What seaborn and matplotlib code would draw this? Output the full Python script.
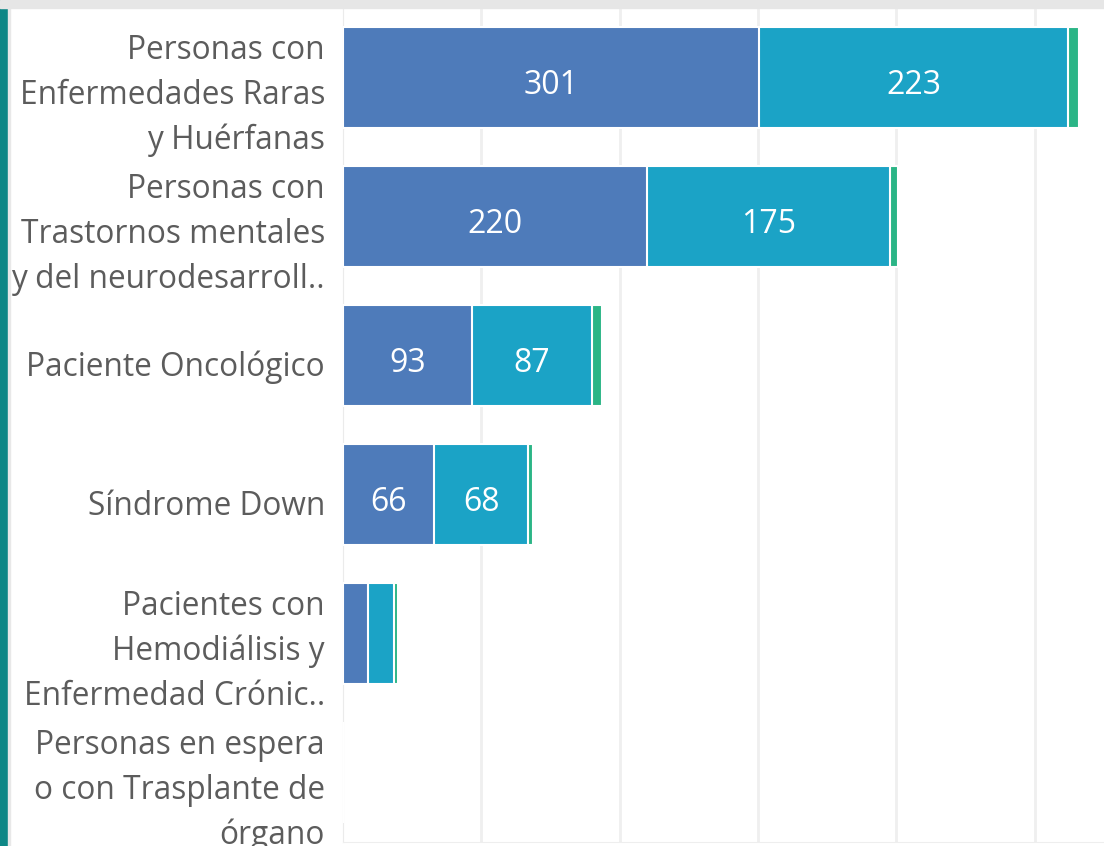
import numpy as np
import pandas as pd
import matplotlib
matplotlib.use("Agg")
import matplotlib.pyplot as plt
import seaborn as sns
from matplotlib.patches import Rectangle
from matplotlib.transforms import ScaledTranslation

# data
categories = [
    "Personas con\nEnfermedades Raras\ny Huérfanas",
    "Personas con\nTrastornos mentales\ny del neurodesarroll..",
    "Paciente Oncológico",
    "Síndrome Down",
    "Pacientes con\nHemodiálisis y\nEnfermedad Crónic..",
    "Personas en espera\no con Trasplante de\nórgano",
]
blue_vals = [301, 220, 93, 66, 18, 0]
teal_vals = [223, 175, 87, 68, 19, 0]
green_vals = [8, 6, 7, 3, 3, 0]

blue_c = "#4E7BBA"
teal_c = "#1BA3C6"
green_c = "#2BB586"

df = pd.DataFrame({"cat": categories, "blue": blue_vals, "teal": teal_vals, "green": green_vals})
df["bt"] = df["blue"] + df["teal"]
df["total"] = df["bt"] + df["green"]

sns.set_style("white")
plt.rcParams["font.family"] = ["Open Sans", "DejaVu Sans"]

fig = plt.figure(figsize=(11.04, 8.46), dpi=100)
ax = fig.add_axes([343 / 1104, 4 / 846, 1 - 343 / 1104 + 0.01, 834 / 846])

# stacked by overlaying cumulative bars
for col, c in [("total", green_c), ("bt", teal_c), ("blue", blue_c)]:
    sns.barplot(data=df, x=col, y="cat", orient="h", color=c, saturation=1,
                width=0.72, edgecolor="white", linewidth=1.5, ax=ax, zorder=3)

# segment labels (sit a little below the bar centre, like the original)
for i, row in df.iterrows():
    if row["blue"] >= 40:
        ax.text(row["blue"] / 2, i + 0.06, str(row["blue"]), color="white", fontsize=23,
                ha="center", va="center", zorder=5)
    if row["teal"] >= 40:
        ax.text(row["blue"] + row["teal"] / 2, i + 0.06, str(row["teal"]), color="white",
                fontsize=23, ha="center", va="center", zorder=5)

ax.set_xlim(0, 558)
ax.set_ylim(5.5, -0.5)
ax.set_xlabel("")
ax.set_ylabel("")
ax.set_xticks([100, 200, 300, 400, 500])
ax.set_xticklabels([])
ax.xaxis.grid(True, color="#EFEFEF", linewidth=2, zorder=0)
ax.set_axisbelow(True)
ax.tick_params(axis="y", length=0, pad=13, labelsize=22.8, labelcolor="#5C5C5C")
ax.tick_params(axis="x", length=0)
for s in ["top", "right"]:
    ax.spines[s].set_visible(False)
ax.spines["left"].set_color("#EBEBEB")
ax.spines["bottom"].set_color("#EEEEEE")
shift = ScaledTranslation(0, -8 / 100, fig.dpi_scale_trans)
for lbl in ax.get_yticklabels():
    lbl.set_multialignment("right")
    lbl.set_linespacing(1.48)
    lbl.set_transform(lbl.get_transform() + shift)

# frame strips around the chart
fig.patches.append(Rectangle((0, 0), 8 / 1104, 1, transform=fig.transFigure,
                             color="#0E8786", zorder=10))
fig.patches.append(Rectangle((8 / 1104, 0), 2 / 1104, 1, transform=fig.transFigure,
                             color="#E8E8E8", zorder=10))
fig.patches.append(Rectangle((0, 1 - 8 / 846), 1, 8 / 846, transform=fig.transFigure,
                             color="#E6E6E6", zorder=10))

fig.savefig("out.png", dpi=100)
